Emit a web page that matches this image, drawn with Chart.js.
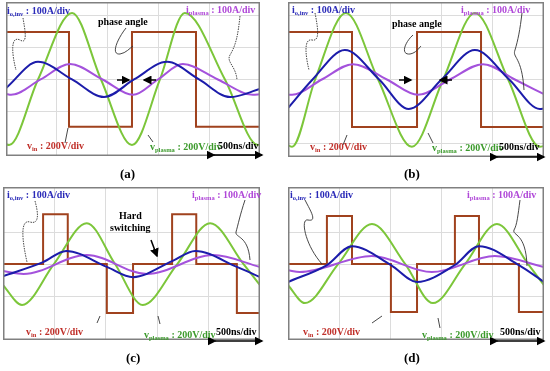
<!DOCTYPE html>
<html>
<head>
<meta charset="utf-8">
<script src="https://cdn.jsdelivr.net/npm/chart.js@4.4.0/dist/chart.umd.min.js"></script>
<style>
  body { margin: 0; background: #fff; }
  #wrap { position: relative; width: 550px; height: 371px; overflow: hidden; background: #fff; }
  .box { position: absolute; }
  .lab { position: absolute; font-family: "Liberation Serif", "DejaVu Serif", serif; font-weight: bold; font-size: 10px; white-space: nowrap; line-height: 1; }
  .lab sub { font-size: 6.5px; vertical-align: -2px; }
  .cap { position: absolute; font-family: "Liberation Serif", serif; font-weight: bold; font-size: 13px; }
  svg { position: absolute; left: 0; top: 0; }
</style>
</head>
<body>
<div id="wrap">
  <div class="box" style="left:6px;top:2px;width:254px;height:154px"><canvas id="chartA" width="254" height="154"></canvas></div>
  <div class="box" style="left:288px;top:2px;width:256px;height:155px"><canvas id="chartB" width="256" height="155"></canvas></div>
  <div class="box" style="left:3px;top:187px;width:257px;height:153px"><canvas id="chartC" width="257" height="153"></canvas></div>
  <div class="box" style="left:288px;top:187px;width:256px;height:153px"><canvas id="chartD" width="256" height="153"></canvas></div>

  <svg width="550" height="371">
    <defs>
      <marker id="ah" markerWidth="6" markerHeight="6" refX="5" refY="3" orient="auto">
        <path d="M0,0 L6,3 L0,6 z" fill="#000"/>
      </marker>
    </defs>
    <g stroke="#000" stroke-width="1.5" fill="none">
      <!-- 500ns/div arrows -->
      <line x1="214" y1="155" x2="262" y2="155" marker-start="url(#ah)" marker-end="url(#ah)"/>
      <line x1="497" y1="157" x2="544" y2="157" marker-start="url(#ah)" marker-end="url(#ah)"/>
      <line x1="215" y1="341" x2="262" y2="341" marker-start="url(#ah)" marker-end="url(#ah)"/>
      <line x1="497" y1="341" x2="544" y2="341" marker-start="url(#ah)" marker-end="url(#ah)"/>
      <!-- phase angle arrows -->
      <line x1="117" y1="80" x2="129" y2="80" marker-end="url(#ah)"/>
      <line x1="156" y1="80" x2="144" y2="80" marker-end="url(#ah)"/>
      <line x1="399" y1="80" x2="411" y2="80" marker-end="url(#ah)"/>
      <line x1="452" y1="80" x2="440" y2="80" marker-end="url(#ah)"/>
      <!-- hard switching arrow -->
      <line x1="151" y1="240" x2="157" y2="256" marker-end="url(#ah)"/>
    </g>
    <g stroke="#333" stroke-width="0.9" fill="none">
      <path d="M23,18 C25,30 28,45 20,40 C10,35 12,55 16,70" stroke-dasharray="1.5,1"/>
      <path d="M240,16 C238,35 236,45 230,55 C226,62 236,66 237,80" stroke-dasharray="1.5,1"/>
      <path d="M126,28 C118,38 110,55 120,54 C126,53 130,48 133,46"/>
      <path d="M65,143 L68,128"/>
      <path d="M153,142 L148,135"/>
      <path d="M315,13 C318,28 320,42 312,40 C303,38 306,58 309,70" stroke-dasharray="1.5,1"/>
      <path d="M522,13 C520,30 518,40 515,50 C512,58 522,56 524,90"/>
      <path d="M413,35 C405,42 400,55 410,54 C416,53 419,48 421,46"/>
      <path d="M343,145 L347,135"/>
      <path d="M433,143 L428,133"/>
      <path d="M35,201 C38,212 40,225 30,222 C20,219 22,240 27,262" stroke-dasharray="1.5,1"/>
      <path d="M245,200 C240,215 238,225 236,232 C235,238 248,235 250,260"/>
      <path d="M100,316 L97,323"/>
      <path d="M158,316 L160,324"/>
      <path d="M305,200 C310,210 318,222 308,220 C300,218 305,245 322,264"/>
      <path d="M520,200 C518,215 517,225 514,230 C512,236 526,232 527,266"/>
      <path d="M382,316 L372,323"/>
      <path d="M438,318 L440,328"/>
    </g>
  </svg>

  <div class="lab" style="left:7px;top:6px;color:#2a2ab8">i<sub>o,inv</sub> : 100A/div</div>
  <div class="lab" style="left:186px;top:5px;color:#b048d8">i<sub>plasma</sub> : 100A/div</div>
  <div class="lab" style="left:98px;top:17px;color:#000">phase angle</div>
  <div class="lab" style="left:27px;top:141px;color:#c0302a">v<sub>in</sub> : 200V/div</div>
  <div class="lab" style="left:150px;top:142px;color:#3c9a2c">v<sub>plasma</sub> : 200V/div</div>
  <div class="lab" style="left:218px;top:141px;color:#000">500ns/div</div>
  <div class="cap" style="left:120px;top:166px">(a)</div>

  <div class="lab" style="left:292px;top:5px;color:#2a2ab8">i<sub>o,inv</sub> : 100A/div</div>
  <div class="lab" style="left:461px;top:5px;color:#b048d8">i<sub>plasma</sub> : 100A/div</div>
  <div class="lab" style="left:392px;top:19px;color:#000">phase angle</div>
  <div class="lab" style="left:310px;top:142px;color:#c0302a">v<sub>in</sub> : 200V/div</div>
  <div class="lab" style="left:432px;top:143px;color:#3c9a2c">v<sub>plasma</sub> : 200V/div</div>
  <div class="lab" style="left:499px;top:142px;color:#000">500ns/div</div>
  <div class="cap" style="left:404px;top:166px">(b)</div>

  <div class="lab" style="left:7px;top:190px;color:#2a2ab8">i<sub>o,inv</sub> : 100A/div</div>
  <div class="lab" style="left:192px;top:190px;color:#b048d8">i<sub>plasma</sub> : 100A/div</div>
  <div class="lab" style="left:119px;top:211px;color:#000">Hard</div>
  <div class="lab" style="left:110px;top:223px;color:#000">switching</div>
  <div class="lab" style="left:26px;top:327px;color:#c0302a">v<sub>in</sub> : 200V/div</div>
  <div class="lab" style="left:144px;top:330px;color:#3c9a2c">v<sub>plasma</sub> : 200V/div</div>
  <div class="lab" style="left:216px;top:327px;color:#000">500ns/div</div>
  <div class="cap" style="left:126px;top:350px">(c)</div>

  <div class="lab" style="left:290px;top:190px;color:#2a2ab8">i<sub>o,inv</sub> : 100A/div</div>
  <div class="lab" style="left:467px;top:190px;color:#b048d8">i<sub>plasma</sub> : 100A/div</div>
  <div class="lab" style="left:303px;top:327px;color:#c0302a">v<sub>in</sub> : 200V/div</div>
  <div class="lab" style="left:422px;top:330px;color:#3c9a2c">v<sub>plasma</sub> : 200V/div</div>
  <div class="lab" style="left:500px;top:327px;color:#000">500ns/div</div>
  <div class="cap" style="left:404px;top:350px">(d)</div>
</div>

<script>
// Waveforms: x = time in divisions (500ns/div), y = divisions from centre

// (a)
const vinA = [[0, 1.48], [1.24, 1.48], [1.24, -1.48], [2.48, -1.48], [2.48, 1.48], [3.74, 1.48], [3.74, -1.48], [5, -1.48]];
const vplasmaA = [[0, -2.02], [0.06, -2.05], [0.63, 0], [1.3, 2.08], [1.87, 0], [2.48, -2.05], [3.03, 0], [3.52, 2.08], [4.31, 0], [4.96, -2.05], [5, -2.04]];
const iinvA = [[0, -0.27], [0.63, 0.55], [1.3, 0], [1.93, -0.55], [2.52, 0], [3.17, 0.55], [3.8, 0], [4.41, -0.55], [5, -0.3]];
const iplasmaA = [[0, -0.45], [0.1, -0.48], [0.68, 0], [1.26, 0.48], [1.9, 0], [2.5, -0.48], [2.99, 0], [3.48, 0.48], [4.17, 0], [4.86, -0.48], [5, -0.46]];

// (b)
const vinB = [[0, 1.48], [1.25, 1.48], [1.25, -1.48], [2.52, -1.48], [2.52, 1.48], [3.77, 1.48], [3.77, -1.48], [5, -1.48]];
const vplasmaB = [[0, -2.05], [0.08, -2.1], [0.53, 0], [1.13, 2.08], [1.76, 0], [2.42, -2.1], [3.03, 0], [3.65, 2.08], [4.3, 0], [4.92, -2.1], [5, -2.08]];
const iinvB = [[0, -0.89], [0.48, 0], [1.11, 0.92], [1.78, 0], [2.36, -0.92], [3.0, 0], [3.65, 0.92], [4.32, 0], [4.92, -0.92], [5, -0.91]];
const iplasmaB = [[0, -0.47], [0.08, -0.48], [0.66, 0], [1.27, 0.48], [1.93, 0], [2.54, -0.48], [3.16, 0], [3.81, 0.48], [4.43, 0], [5, -0.46]];

// (c)
const vinC = [[0, 0], [0.78, 0], [0.78, 1.56], [1.26, 1.56], [1.26, 0], [2.02, 0], [2.02, -1.53], [2.53, -1.53], [2.53, 0], [3.29, 0], [3.29, 1.56], [3.76, 1.56], [3.76, 0], [4.55, 0], [4.55, -1.53], [5, -1.53]];
const vplasmaC = [[0, -0.66], [0.37, -1.28], [0.99, 0], [1.63, 1.28], [2.18, 0], [2.72, -1.28], [3.39, 0], [4.03, 1.28], [4.68, 0], [5, -0.66]];
const iinvC = [[0, -0.38], [0.78, 0.06], [1.23, 0.41], [2.02, -0.09], [2.53, -0.41], [3.29, 0.09], [3.74, 0.41], [4.55, -0.09], [5, -0.41]];
const iplasmaC = [[0, -0.22], [0.4, -0.31], [1.63, 0.28], [2.8, -0.31], [4.09, 0.28], [5, -0.09]];

// (d)
const vinD = [[0, 0], [0.76, 0], [0.76, 1.5], [1.25, 1.5], [1.25, 0], [2.01, 0], [2.01, -1.5], [2.52, -1.5], [2.52, 0], [3.26, 0], [3.26, 1.5], [3.73, 1.5], [3.73, 0], [4.51, 0], [4.51, -1.5], [5, -1.5]];
const vplasmaD = [[0, -0.66], [0.33, -1.22], [0.98, 0], [1.64, 1.25], [2.29, 0], [2.83, -1.22], [3.46, 0], [4.08, 1.25], [4.69, 0], [5, -0.66]];
const iinvD = [[0, -0.56], [0.76, -0.03], [1.25, 0.56], [2.01, -0.03], [2.52, -0.56], [3.26, -0.03], [3.73, 0.56], [4.51, -0.03], [5, -0.56]];
const iplasmaD = [[0, -0.19], [0.23, -0.25], [1.64, 0.25], [2.81, -0.25], [4.04, 0.25], [5, -0.09]];

const brown = '#a0421e';
const green = '#7cc63a';
const blue = '#1c1caa';
const purple = '#a452dc';

const toXY = arr => arr.map(p => ({ x: p[0], y: p[1] }));

// frame round the plot area, like the scope screen
const framePlugin = {
    id: 'frame',
    afterDraw(chart) {
        const a = chart.chartArea;
        const ctx = chart.ctx;
        ctx.save();
        ctx.strokeStyle = '#808080';
        ctx.lineWidth = 1.5;
        ctx.strokeRect(a.left + 0.75, a.top + 0.75, a.right - a.left - 1.5, a.bottom - a.top - 1.5);
        ctx.restore();
    }
};

function scopePanel(id, vin, vplasma, iinv, iplasma, yMin, yMax) {
    const curve = (data, color) => ({
        data: toXY(data),
        borderColor: color,
        borderWidth: 2,
        pointRadius: 0,
        cubicInterpolationMode: 'monotone'
    });
    new Chart(document.getElementById(id), {
        type: 'line',
        data: {
            datasets: [
                curve(iinv, blue),
                curve(iplasma, purple),
                curve(vplasma, green),
                { data: toXY(vin), borderColor: brown, borderWidth: 2, pointRadius: 0, tension: 0 }
            ]
        },
        options: {
            responsive: false,
            animation: false,
            layout: { padding: 0 },
            plugins: { legend: { display: false }, tooltip: { enabled: false } },
            scales: {
                x: {
                    type: 'linear', min: 0, max: 5,
                    ticks: { display: false, stepSize: 1 },
                    grid: { color: '#dcdcdc', drawTicks: false },
                    border: { display: false }
                },
                y: {
                    type: 'linear', min: yMin, max: yMax,
                    ticks: { display: false, stepSize: 1 },
                    grid: { color: '#dcdcdc', drawTicks: false },
                    border: { display: false }
                }
            }
        },
        plugins: [framePlugin]
    });
}

scopePanel('chartA', vinA, vplasmaA, iinvA, iplasmaA, -2.39, 2.42);
scopePanel('chartB', vinB, vplasmaB, iinvB, iplasmaB, -2.42, 2.42);
scopePanel('chartC', vinC, vplasmaC, iinvC, iplasmaC, -2.375, 2.41);
scopePanel('chartD', vinD, vplasmaD, iinvD, iplasmaD, -2.375, 2.41);
</script>
</body>
</html>
